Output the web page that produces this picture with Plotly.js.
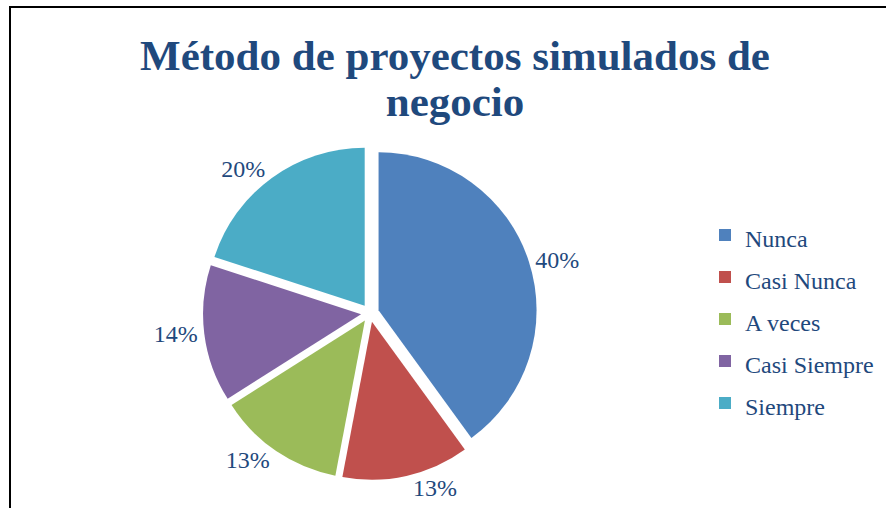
<!DOCTYPE html>
<html>
<head>
<meta charset="utf-8">
<script src="https://cdn.plot.ly/plotly-3.0.1.min.js"></script>
<style>html,body{margin:0;padding:0;background:#fff;}#chart{width:886px;height:508px;}</style>
</head>
<body>
<div id="chart"></div>
<script>
const categories = ["Nunca", "Casi Nunca", "A veces", "Casi Siempre", "Siempre"];
const values = [40, 13, 13, 14, 20];
const sliceColors = ["#4F81BD", "#C0504D", "#9BBB59", "#8064A2", "#4BACC6"];
const titleLines = ["Método de proyectos simulados de", "negocio"];

const textBlue = "#1F497D";
const serif = "'Liberation Serif', 'Times New Roman', serif";

const legendLabels = categories.map(c => '<span style="font-size:24px">' + c + '</span>');

const W = 886, H = 508;
// pie geometry (pixels)
const cx = 370, cy = 313, r = 158, pullPx = 9;
const pull = pullPx / r;
const half = r * (1 + pull);

const trace = {
  type: "pie",
  labels: legendLabels,
  values: values,
  sort: false,
  direction: "clockwise",
  rotation: 0,
  pull: values.map(() => pull),
  marker: { colors: sliceColors, line: { color: "#ffffff", width: 0 } },
  textinfo: "percent",
  textposition: "outside",
  outsidetextfont: { family: serif, size: 24, color: textBlue },
  hoverinfo: "percent",
  domain: {
    x: [(cx - half) / W, (cx + half) / W],
    y: [1 - (cy + half) / H, 1 - (cy - half) / H]
  }
};

const layout = {
  width: W,
  height: H,
  margin: { l: 0, r: 0, t: 0, b: 0 },
  paper_bgcolor: "#ffffff",
  plot_bgcolor: "#ffffff",
  title: {
    text: titleLines.map(t => '<span style="font-size:43px">' + t + '</span>').join("<br>"),
    font: { family: serif, size: 35, color: textBlue, weight: "bold" },
    x: 455 / W,
    xanchor: "center",
    xref: "paper",
    y: 1 - 70 / H,
    yanchor: "top",
    yref: "container"
  },
  showlegend: true,
  legend: {
    x: 705 / W,
    xanchor: "left",
    y: 1 - 319 / H,
    yanchor: "middle",
    font: { family: serif, size: 30, color: textBlue },
    bgcolor: "rgba(0,0,0,0)",
    itemwidth: 30
  },
  shapes: [
    {
      type: "path",
      xref: "paper", yref: "paper",
      path: "M " + (10 / W) + " 0 L " + (10 / W) + " " + (1 - 7 / H) + " L 1 " + (1 - 7 / H),
      line: { color: "#000000", width: 2 }
    }
  ]
};

Plotly.newPlot("chart", [trace], layout, { staticPlot: true, displayModeBar: false });
</script>
</body>
</html>
